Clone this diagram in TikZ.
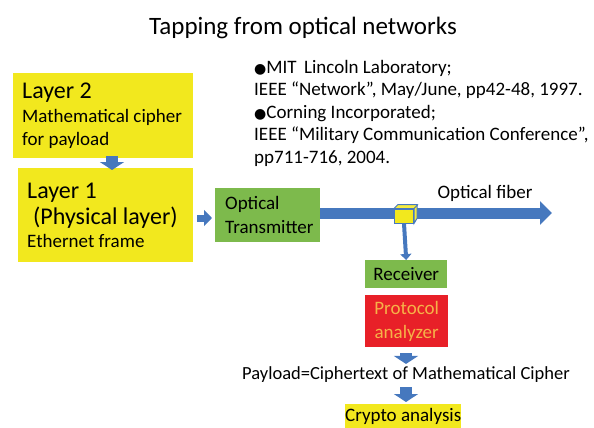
\documentclass[tikz,border=0pt]{standalone}
\usepackage{fontspec}
\setmainfont{Carlito}
\newfontfamily\dotfont{DejaVu Sans}
\usetikzlibrary{arrows.meta,positioning}

\definecolor{boxyellow}{RGB}{242,232,30}
\definecolor{boxgreen}{RGB}{125,186,76}
\definecolor{boxred}{RGB}{232,32,40}
\definecolor{txtorange}{RGB}{246,178,72}
\definecolor{arrowblue}{RGB}{70,120,190}

\begin{document}
\begin{tikzpicture}[x=1pt,y=-1pt,
    every node/.style={inner sep=0pt},
    body/.style={font=\fontsize{19}{23}\selectfont},
    yellowbox/.style={fill=boxyellow, body},
    greenbox/.style={fill=boxgreen, body},
    redbox/.style={fill=boxred, text=txtorange, body},
    fatarrow/.style={arrowblue, line width=12pt, -{Triangle[width=24pt,length=8pt]}},
    thinarrow/.style={arrowblue, line width=4pt, -{Triangle[width=11pt,length=6pt]}}]
  \useasboundingbox (0,0) rectangle (594,428);
  \node[font=\fontsize{25}{30}\selectfont] (title) at (303,28) {Tapping from optical networks};
  \node[body, font=\fontsize{19}{22.5}\selectfont, align=flush left, anchor=north west] (refs) at (254,60)
    {{\dotfont\fontsize{14}{22}\selectfont ●}MIT\, Lincoln Laboratory;\\
    IEEE “Network”, May/June, pp42-48, 1997.\\
    {\dotfont\fontsize{14}{22}\selectfont ●}Corning Incorporated;\\
    IEEE “Military Communication Conference”,\\
    pp711-716, 2004.};
  \node[yellowbox, anchor=north west, minimum width=180pt, minimum height=85pt,
        text width=162pt, align=flush left] (layer2) at (13,73)
        {{\fontsize{24}{28}\selectfont Layer 2}\\[1pt] Mathematical cipher\\ for payload};
  \node[yellowbox, anchor=north west, minimum width=175pt, minimum height=94pt,
        text width=157pt, align=flush left] (layer1) at (18,168)
        {{\fontsize{24}{28}\selectfont Layer 1}\\[3pt] {\fontsize{24}{28}\selectfont \hspace{6pt}(Physical layer)}\\ Ethernet frame};
  \node[greenbox, anchor=north west, minimum width=105pt, minimum height=54pt,
        text width=85pt, align=flush left] (tx) at (215,188) {Optical\\[1pt] Transmitter};
  \coordinate (fiberend) at (552,213);
  \node[body, anchor=base] (fiberlabel) at (485,198) {Optical fiber};
  \node[greenbox, anchor=north west, minimum width=82pt, minimum height=28pt] (rx) at (365,260) {Receiver};
  \node[redbox, anchor=north west, minimum width=83pt, minimum height=52pt, align=center] (pa) at (365,295) {Protocol\\[1pt] analyzer};
  \node[body, font=\fontsize{18.5}{22}\selectfont, anchor=base] (payload) at (406,379) {Payload=Ciphertext of Mathematical Cipher};
  \node[yellowbox, anchor=north west, minimum width=105pt, minimum height=24pt] (crypto) at (345,404) {Crypto analysis};

  \draw[arrowblue, line width=11pt, -{Triangle[width=23pt,length=12pt]}] (tx.east |- fiberend) -- (fiberend);
  \node[draw=arrowblue, fill=boxyellow, line width=1pt, minimum width=19pt, minimum height=14pt] (tap) at (404,216) {};
  \draw[arrowblue, fill=boxyellow!85!white, line width=1pt] (tap.north west) -- ++(4,-4) -- ++(19,0) -- ++(0,14) -- (tap.south east) -- (tap.north east) -- cycle;
  \draw[arrowblue, line width=1pt] (tap.north east) -- ++(4,-4);

  \draw[fatarrow, shorten <=-2pt, shorten >=-2pt] (layer2.south -| 112,0) -- (layer1.north -| 112,0);
  \draw[fatarrow, line width=7pt, -{Triangle[width=16pt,length=8pt]}, shorten <=4pt, shorten >=3pt] (layer1.east |- 0,218) -- (tx.west |- 0,218);
  \draw[thinarrow] (tap.south) -- (rx.north);
  \draw[fatarrow, shorten <=6pt, shorten >=2pt] (pa.south -| payload.north) -- (payload.north);
  \draw[fatarrow, shorten <=5pt, shorten >=2pt] (payload.south) -- (crypto.north -| payload.south);
\end{tikzpicture}
\end{document}
